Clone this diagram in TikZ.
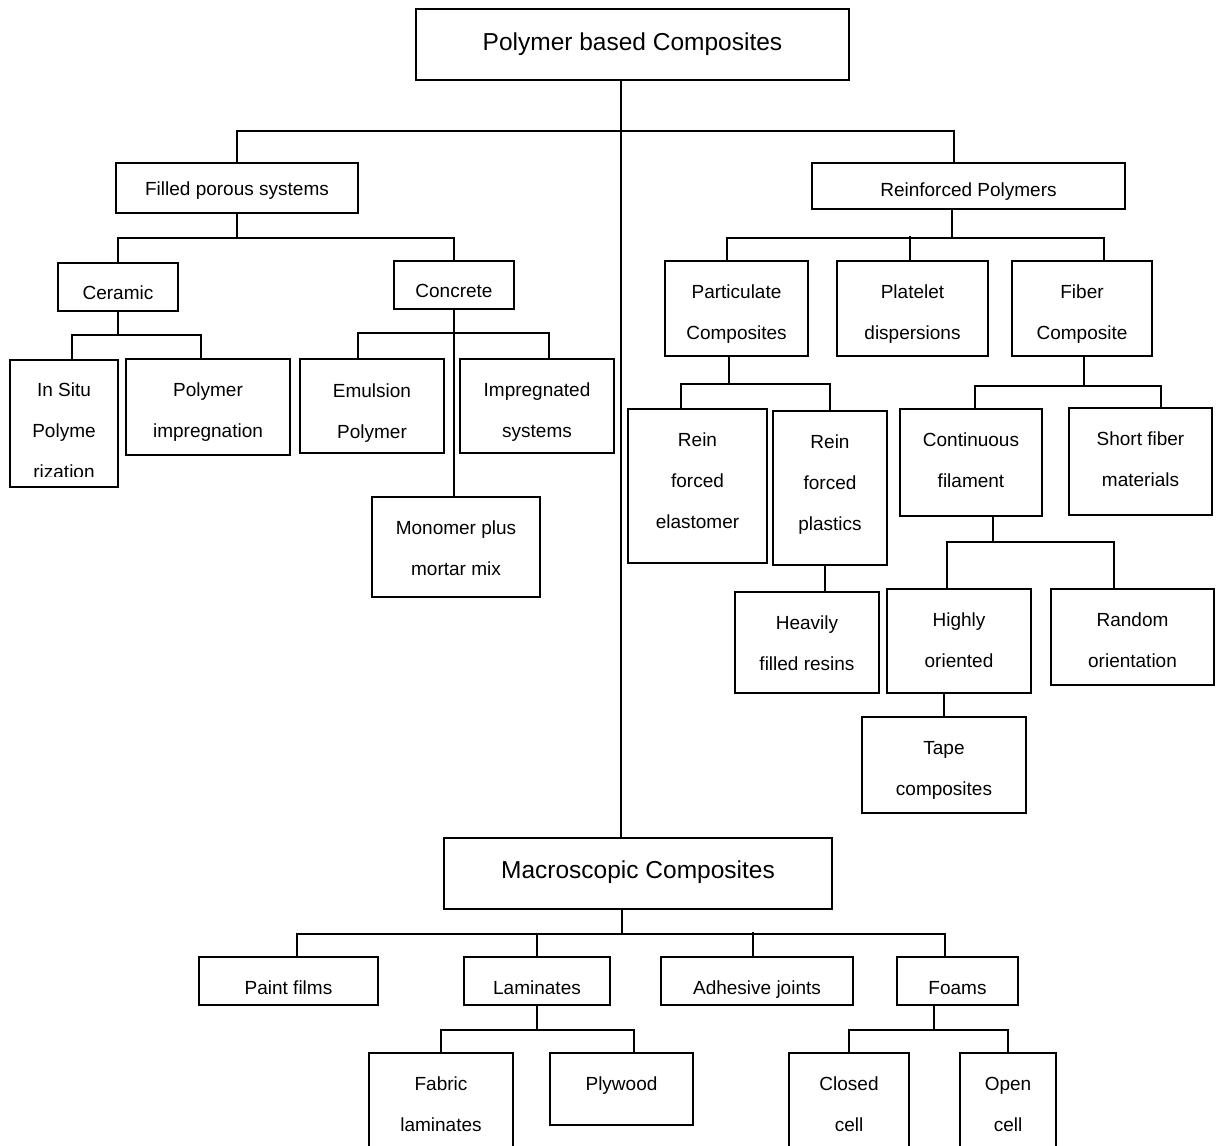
\documentclass[tikz,border=0pt]{standalone}
\usepackage{fontspec}
\setmainfont{Liberation Sans}
\begin{document}
\begin{tikzpicture}[x=1pt, y=-1pt, line width=1.8pt,
  box/.style={draw, rectangle, inner sep=0pt},
  txt/.style={inner sep=0pt, align=center, font=\fontsize{19}{41}\selectfont},
  bigtxt/.style={txt, font=\fontsize{24.5}{30}\selectfont}]
  \useasboundingbox (0,0) rectangle (1216,1146);
  % top and middle headings
  \node[box, minimum width=433, minimum height=71] (root) at (632.5,44.5) {};
  \node[bigtxt] at (632.5,44.5) {Polymer based Composites};
  \node[box, minimum width=388, minimum height=71] (macro) at (638,873.5) {};
  \node[bigtxt] at (638,872.5) {Macroscopic Composites};
  % left branch
  \node[box, minimum width=242, minimum height=50] (filled) at (237,188) {};
  \node[txt] at (237,191) {Filled porous systems};
  \node[box, minimum width=120, minimum height=48] (ceramic) at (118,287) {};
  \node[txt] at (118,293) {Ceramic};
  \node[box, minimum width=120, minimum height=48] (concrete) at (454,285) {};
  \node[txt] at (454,291) {Concrete};
  \node[box, minimum width=108, minimum height=127] (insitu) at (64,423.5) {};
  \begin{scope}
    \clip (10,360) rectangle (118,476);
    \node[txt] at (64,431) {In Situ\\Polyme\\rization};
  \end{scope}
  \node[box, minimum width=164, minimum height=96] (polimp) at (208,407) {};
  \node[txt] at (208,412) {Polymer\\impregnation};
  \node[box, minimum width=144, minimum height=94] (emul) at (372,406) {};
  \node[txt] at (372,413) {Emulsion\\Polymer};
  \node[box, minimum width=154, minimum height=94] (impreg) at (537,406) {};
  \node[txt] at (537,412) {Impregnated\\systems};
  \node[box, minimum width=168, minimum height=100] (monomer) at (456,547) {};
  \node[txt] at (456,548) {Monomer plus\\mortar mix};
  % right branch
  \node[box, minimum width=313, minimum height=46] (reinf) at (968.5,186) {};
  \node[txt] at (968.5,192) {Reinforced Polymers};
  \node[box, minimum width=143, minimum height=95] (partic) at (736.5,308.5) {};
  \node[txt] at (736.5,314.5) {Particulate\\Composites};
  \node[box, minimum width=151, minimum height=95] (platelet) at (912.5,308.5) {};
  \node[txt] at (912.5,314.5) {Platelet\\dispersions};
  \node[box, minimum width=140, minimum height=95] (fiber) at (1082,308.5) {};
  \node[txt] at (1082,314.5) {Fiber\\Composite};
  \node[box, minimum width=139, minimum height=154] (relast) at (697.5,486) {};
  \node[txt] at (697.5,481) {Rein\\forced\\elastomer};
  \node[box, minimum width=114, minimum height=154] (rplast) at (830,488) {};
  \node[txt] at (830,485) {Rein\\forced\\plastics};
  \node[box, minimum width=144, minimum height=101] (heavy) at (807,642.5) {};
  \node[txt] at (807,643.5) {Heavily\\filled resins};
  \node[box, minimum width=142, minimum height=107] (contin) at (971,462.5) {};
  \node[txt] at (971,460.5) {Continuous\\filament};
  \node[box, minimum width=143, minimum height=107] (short) at (1140.5,461.5) {};
  \node[txt] at (1140.5,459.5) {Short fiber\\materials};
  \node[box, minimum width=144, minimum height=104] (highly) at (959,641) {};
  \node[txt] at (959,640) {Highly\\oriented};
  \node[box, minimum width=163, minimum height=96] (random) at (1132.5,637) {};
  \node[txt] at (1132.5,640) {Random\\orientation};
  \node[box, minimum width=164, minimum height=96] (tape) at (944,765) {};
  \node[txt] at (944,770) {Tape\\composites};
  % bottom branch
  \node[box, minimum width=179, minimum height=48] (paint) at (288.5,981) {};
  \node[txt] at (288.5,988) {Paint films};
  \node[box, minimum width=146, minimum height=48] (lamin) at (537,981) {};
  \node[txt] at (537,988) {Laminates};
  \node[box, minimum width=192, minimum height=48] (adhes) at (757,981) {};
  \node[txt] at (757,990) {Adhesive joints};
  \node[box, minimum width=121, minimum height=48] (foams) at (957.5,981) {};
  \node[txt] at (957.5,988) {Foams};
  \node[box, minimum width=144, minimum height=107] (fabric) at (441,1106.5) {};
  \node[txt] at (441,1104.5) {Fabric\\laminates};
  \node[box, minimum width=143, minimum height=72] (plywood) at (621.5,1089) {};
  \node[txt] at (621.5,1086) {Plywood};
  \node[box, minimum width=120, minimum height=107] (closed) at (849,1106.5) {};
  \node[txt] at (849,1104.5) {Closed\\cell};
  \node[box, minimum width=96, minimum height=107] (open) at (1008,1106.5) {};
  \node[txt] at (1008,1104.5) {Open\\cell};

  % connectors
  \coordinate (j0) at (621,131);
  \draw (root.south -| j0) -- (macro.north -| j0);
  \draw (filled.north) |- (j0) -| ([xshift=-14.5]reinf.north);

  \draw (filled.south) -- ++(0,24) coordinate (j1);
  \draw (ceramic.north) |- (j1) -| (concrete.north);
  \draw (ceramic.south) -- ++(0,23) coordinate (j2);
  \draw ([xshift=8]insitu.north) |- (j2) -| ([xshift=-7]polimp.north);
  \draw (concrete.south) -- (concrete.south |- monomer.north);
  \coordinate (j3) at ([yshift=-23]concrete.south);
  \draw ([xshift=-14]emul.north) |- (j3) -| ([xshift=12]impreg.north);

  \draw ([xshift=-16.5]reinf.south) -- ++(0,28) coordinate (j4);
  \draw ([xshift=-9.5]partic.north) |- (j4) -| ([xshift=22]fiber.north);
  \draw ([xshift=-2.5]platelet.north) -- ++(0,-24);
  \draw ([xshift=-7.5]partic.south) -- ++(0,27) coordinate (j5);
  \draw ([xshift=-16.5]relast.north) |- (j5) -| (rplast.north);
  \draw ([xshift=-5]rplast.south) -- ([xshift=18]heavy.north);
  \draw ([xshift=2]fiber.south) -- ++(0,29) coordinate (j6);
  \draw ([xshift=4]contin.north) |- (j6) -| ([xshift=20.5]short.north);
  \draw ([xshift=22]contin.south) -- ++(0,25) coordinate (j7);
  \draw ([xshift=-12]highly.north) |- (j7) -| ([xshift=-18.5]random.north);
  \draw (tape.north) -- (tape.north |- highly.south);

  \draw ([xshift=-16]macro.south) -- ++(0,24) coordinate (j8);
  \draw ([xshift=8.5]paint.north) |- (j8) -| ([xshift=-12.5]foams.north);
  \draw (lamin.north) -- (lamin.north |- j8);
  \draw ([xshift=-4]adhes.north) -- ++(0,-24);
  \draw (lamin.south) -- ++(0,24) coordinate (j9);
  \draw (fabric.north) |- (j9) -| ([xshift=12.5]plywood.north);
  \draw ([xshift=-23.5]foams.south) -- ++(0,24) coordinate (j10);
  \draw (closed.north) |- (j10) -| (open.north);
\end{tikzpicture}
\end{document}
